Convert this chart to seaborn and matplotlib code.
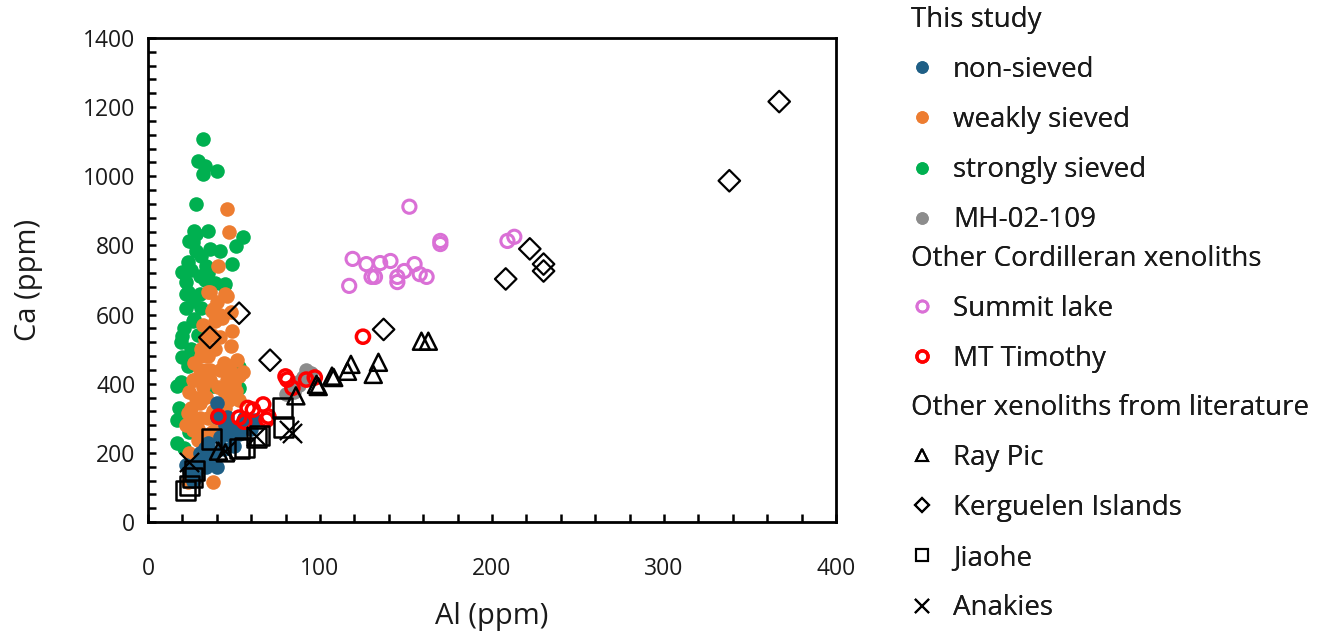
import matplotlib
matplotlib.use("Agg")
import matplotlib.pyplot as plt
from matplotlib.lines import Line2D
from matplotlib.ticker import MultipleLocator
import seaborn as sns

# ---- Al vs Ca (ppm) in clinopyroxene / olivine groups ----
non_sieved_al = [40, 40, 46, 52, 42, 47, 55, 58, 32, 29, 26, 34, 40, 24, 28, 36, 44,
                 50, 38, 30, 48, 53, 60, 35, 22, 26, 45, 33, 56, 62]
non_sieved_ca = [345, 305, 305, 276, 247, 260, 290, 280, 189, 171, 142, 160, 160, 150,
                 130, 175, 210, 220, 200, 200, 250, 255, 270, 230, 165, 120, 280, 215, 300, 295]

weakly_al = [46, 47, 41, 35, 46, 37, 40, 36, 45, 38, 48, 49, 33, 42, 48, 35, 52, 30, 42,
             53, 27, 36, 46, 24, 34, 48, 34, 55, 30, 23, 28, 26, 29, 24, 23, 38, 53, 47,
             43, 39, 31, 44, 50, 37, 27, 32, 41, 45, 25, 35, 40, 29, 33, 38, 44, 26, 31,
             36, 42, 49, 28, 34, 39, 22, 30, 51, 43, 37, 47, 32]
weakly_ca = [906, 839, 741, 665, 654, 610, 636, 665, 659, 616, 607, 552, 528, 534, 509,
             479, 470, 441, 441, 421, 412, 412, 412, 375, 363, 363, 441, 433, 345, 316,
             296, 267, 238, 200, 116, 116, 354, 354, 590, 580, 500, 460, 400, 540, 460,
             390, 390, 330, 330, 300, 280, 270, 250, 320, 380, 410, 480, 440, 600, 430,
             360, 420, 500, 280, 300, 380, 320, 260, 450, 570]

strongly_al = [32, 29, 33, 32, 40, 28, 27, 35, 55, 24, 51, 42, 23, 49, 20, 30, 22, 44, 22,
               23, 34, 28, 28, 26, 27, 45, 26, 20, 20, 23, 17, 38, 53, 24, 19, 17, 17, 21,
               53, 31, 25, 36, 30, 22, 26, 33, 21, 19, 25, 29, 18, 24, 31, 35, 39]
strongly_ca = [1107, 1043, 1031, 1008, 1014, 921, 842, 842, 825, 813, 799, 784, 752, 746,
               723, 712, 694, 683, 659, 665, 741, 784, 834, 810, 587, 688, 581, 537, 476,
               450, 392, 392, 447, 465, 404, 296, 229, 215, 389, 770, 730, 790, 660, 620,
               640, 700, 560, 520, 500, 540, 330, 260, 620, 720, 690]

mh_al = [80, 83, 85, 87, 88, 90, 92, 93, 95]
mh_ca = [370, 383, 375, 405, 395, 420, 441, 415, 430]

summit_al = [152, 170, 170, 119, 127, 135, 141, 155, 149, 158, 162, 145, 145, 130, 132,
             117, 209, 213]
summit_ca = [912, 813, 804, 761, 746, 749, 755, 746, 726, 717, 709, 709, 694, 709, 709,
             683, 813, 825]

timothy_al = [80, 81, 84, 92, 97, 67, 61, 69, 53, 56, 41, 125, 70, 58]
timothy_ca = [421, 412, 388, 412, 418, 340, 325, 296, 302, 290, 305, 536, 305, 330]

raypic_al = [41, 45, 86, 98, 99, 107, 108, 116, 118, 131, 134, 159, 163]
raypic_ca = [205, 200, 365, 398, 392, 422, 418, 436, 456, 427, 462, 523, 523]

kerguelen_al = [367, 338, 222, 230, 230, 208, 137, 53, 36, 71]
kerguelen_ca = [1216, 987, 790, 746, 726, 703, 557, 604, 534, 468]

jiaohe_al = [22, 24, 26, 27, 37, 53, 56, 63, 65, 78, 79]
jiaohe_ca = [92, 105, 130, 148, 240, 212, 215, 245, 250, 330, 275]

anakies_al = [24, 45, 63, 82, 84]
anakies_ca = [175, 205, 250, 265, 258]

# ---- styling ----
sns.set_theme(style="white")
plt.rcParams["font.family"] = ["Open Sans", "DejaVu Sans"]

TXT = "#1a1a1a"
C_BLUE = "#1f5f86"
C_ORANGE = "#ed7d31"
C_GREEN = "#00b050"
C_GRAY = "#8c8c8c"
C_PURPLE = "#da70d6"
C_RED = "#ff0000"

fig = plt.figure(figsize=(13.28, 6.36), dpi=100)
ax = fig.add_axes([0.1114, 0.1792, 0.5181, 0.7611])

filled = dict(s=110, linewidth=0, marker="o", legend=False, zorder=2)
sns.scatterplot(x=strongly_al, y=strongly_ca, color=C_GREEN, ax=ax, **filled)
sns.scatterplot(x=weakly_al, y=weakly_ca, color=C_ORANGE, ax=ax, **filled)
sns.scatterplot(x=non_sieved_al, y=non_sieved_ca, color=C_BLUE, ax=ax, **filled)
sns.scatterplot(x=mh_al, y=mh_ca, color=C_GRAY, ax=ax, **filled)

hollow = dict(s=90, marker="o", legend=False, zorder=3)
sns.scatterplot(x=summit_al, y=summit_ca, facecolor="none", edgecolor=C_PURPLE,
                linewidth=2.2, ax=ax, **hollow)
sns.scatterplot(x=timothy_al, y=timothy_ca, facecolor="none", edgecolor=C_RED,
                linewidth=2.5, ax=ax, **hollow)

lit = dict(legend=False, zorder=4)
sns.scatterplot(x=raypic_al, y=raypic_ca, marker="^", s=150, facecolor="none",
                edgecolor="black", linewidth=1.8, ax=ax, **lit)
sns.scatterplot(x=kerguelen_al, y=kerguelen_ca, marker="D", s=120, facecolor="none",
                edgecolor="black", linewidth=1.6, ax=ax, **lit)
sns.scatterplot(x=jiaohe_al, y=jiaohe_ca, marker="s", s=190, facecolor="none",
                edgecolor="black", linewidth=1.8, ax=ax, **lit)
sns.scatterplot(x=anakies_al, y=anakies_ca, marker="x", s=190, color="black",
                linewidth=1.6, ax=ax, **lit)

ax.set_xlim(0, 400)
ax.set_ylim(0, 1400)
ax.xaxis.set_major_locator(MultipleLocator(100))
ax.xaxis.set_minor_locator(MultipleLocator(20))
ax.yaxis.set_major_locator(MultipleLocator(200))
ax.yaxis.set_minor_locator(MultipleLocator(40))
ax.tick_params(which="both", direction="in", length=6, width=1.8, color="black",
               bottom=True, left=True, top=False, right=False)
ax.tick_params(axis="both", which="major", labelsize=16.5, labelcolor=TXT)
ax.tick_params(axis="x", which="major", pad=25)
ax.tick_params(axis="y", which="major", pad=9)
for sp in ax.spines.values():
    sp.set_visible(True)
    sp.set_color("black")
    sp.set_linewidth(2)
ax.set_xlabel("Al (ppm)", fontsize=21, color=TXT, labelpad=15)
ax.set_ylabel("Ca (ppm)", fontsize=21, color=TXT, labelpad=29)


def mk(marker, fc, ec, ms, mew=0):
    return Line2D([], [], linestyle="none", marker=marker, markerfacecolor=fc,
                  markeredgecolor=ec, markersize=ms, markeredgewidth=mew)


groups = [
    ("This study", [
        (mk("o", C_BLUE, C_BLUE, 9), "non-sieved"),
        (mk("o", C_ORANGE, C_ORANGE, 9), "weakly sieved"),
        (mk("o", C_GREEN, C_GREEN, 9), "strongly sieved"),
        (mk("o", C_GRAY, C_GRAY, 9), "MH-02-109"),
    ], 1.0),
    ("Other Cordilleran xenoliths", [
        (mk("o", "none", C_PURPLE, 8, 2), "Summit lake"),
        (mk("o", "none", C_RED, 8, 2.4), "MT Timothy"),
    ], 0.624),
    ("Other xenoliths from literature", [
        (mk("^", "none", "black", 9, 1.5), "Ray Pic"),
        (mk("D", "none", "black", 7, 1.5), "Kerguelen Islands"),
        (mk("s", "none", "black", 9, 1.5), "Jiaohe"),
        (mk("x", "black", "black", 10, 1.5), "Anakies"),
    ], 0.390),
]

for title, items, ytop in groups:
    leg = fig.legend([h for h, _ in items], [t for _, t in items], title=title,
                     loc="upper left", bbox_to_anchor=(0.682, ytop),
                     frameon=False, fontsize=20, title_fontsize=20,
                     handlelength=0.8, handletextpad=0.7, labelspacing=0.8,
                     borderpad=0.2, borderaxespad=0)
    leg._legend_box.align = "left"
    for t in leg.get_texts():
        t.set_color(TXT)
    leg.get_title().set_color(TXT)
    fig.add_artist(leg)

fig.savefig("out.png", dpi=100)
